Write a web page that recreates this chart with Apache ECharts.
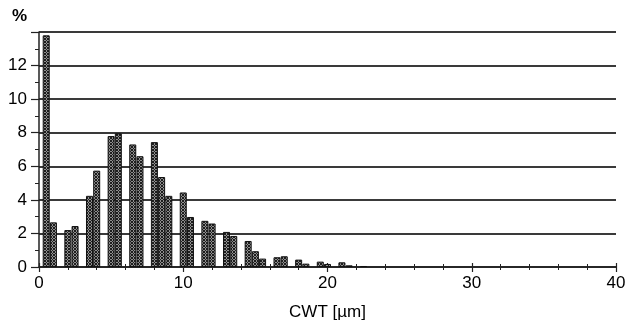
<!DOCTYPE html>
<html>
<head>
<meta charset="utf-8">
<script src="https://cdn.jsdelivr.net/npm/echarts@6/dist/echarts.min.js"></script>
<style>
  html, body { margin: 0; padding: 0; background: #fff; }
  #chart { width: 630px; height: 324px; }
</style>
</head>
<body>
<div id="chart"></div>
<script>
// bin centres (µm) and share of fibres (%)
const cwtBins = [0.5, 1.0, 2.0, 2.5, 3.5, 4.0, 5.0, 5.5, 6.5, 7.0, 8.0, 8.5, 9.0,
  10.0, 10.5, 11.5, 12.0, 13.0, 13.5, 14.5, 15.0, 15.5, 16.5, 17.0, 18.0, 18.5,
  19.5, 20.0, 21.0, 21.5, 22.5]
const percents = [13.8, 2.66, 2.2, 2.44, 4.24, 5.74, 7.8, 7.96, 7.3, 6.6, 7.44, 5.36, 4.24,
  4.44, 2.98, 2.75, 2.59, 2.09, 1.85, 1.55, 0.94, 0.5, 0.58, 0.64, 0.44, 0.2,
  0.32, 0.18, 0.28, 0.1, 0.06]

const xTitle = 'CWT [µm]'
const yTitle = '%'

// dotted grey fill like the scanned print
function makePattern() {
  const c = document.createElement('canvas')
  c.width = 3
  c.height = 3
  const ctx = c.getContext('2d')
  ctx.fillStyle = '#909090'
  ctx.fillRect(0, 0, 3, 3)
  ctx.fillStyle = '#1e1e1e'
  ctx.fillRect(0, 0, 1, 1)
  ctx.fillRect(2, 0, 1, 1)
  ctx.fillRect(1, 1, 1, 1)
  ctx.fillRect(0, 2, 1, 1)
  ctx.fillRect(2, 2, 1, 1)
  return c
}

const chart = echarts.init(document.getElementById('chart'))

const font = 'Liberation Sans, Arial, sans-serif'

chart.setOption({
  animation: false,
  grid: { left: 39, right: 14, top: 32, bottom: 57, containLabel: false, outerBoundsMode: 'none' },
  xAxis: [
    {
      type: 'value',
      min: 0,
      max: 40,
      interval: 10,
      name: xTitle,
      nameLocation: 'center',
      nameGap: 37,
      nameTextStyle: { color: '#000', fontSize: 17, fontFamily: font },
      axisLine: { show: true, lineStyle: { color: '#222', width: 1.5 } },
      axisTick: { show: true, length: 5, lineStyle: { color: '#222', width: 1.2 } },
      minorTick: { show: true, splitNumber: 5, length: 3, lineStyle: { color: '#222', width: 1 } },
      axisLabel: { color: '#000', fontSize: 17, fontFamily: font, margin: 8 },
      splitLine: { show: false }
    },
    {
      // same scale, only to let the ticks cross the axis line
      type: 'value',
      position: 'bottom',
      min: 0,
      max: 40,
      interval: 10,
      axisLine: { show: false },
      axisTick: { show: true, inside: true, length: 4, lineStyle: { color: '#222', width: 1.2 } },
      minorTick: { show: true, splitNumber: 5, length: 3, lineStyle: { color: '#222', width: 1 } },
      axisLabel: { show: false },
      splitLine: { show: false }
    }
  ],
  yAxis: {
    type: 'value',
    min: 0,
    max: 14,
    interval: 2,
    name: yTitle,
    nameLocation: 'end',
    nameGap: 7,
    nameTextStyle: { color: '#000', fontSize: 17, fontWeight: 'bold', fontFamily: font, align: 'right', padding: [0, 12, 0, 0] },
    axisLine: { show: true, lineStyle: { color: '#222', width: 1.5 } },
    axisTick: { show: true, length: 8, lineStyle: { color: '#222', width: 1.2 } },
    minorTick: { show: true, splitNumber: 2, length: 4, lineStyle: { color: '#222', width: 1 } },
    axisLabel: { color: '#000', fontSize: 17, fontFamily: font, margin: 12, formatter: v => (v === 14 ? '' : String(v)) },
    splitLine: { show: true, lineStyle: { color: '#3a3a3a', width: 1.8 } }
  },
  series: [
    {
      type: 'bar',
      xAxisIndex: 0,
      barWidth: 7,
      data: cwtBins.map((x, i) => [x, percents[i]]),
      itemStyle: {
        color: { image: makePattern(), repeat: 'repeat' },
        borderColor: '#111',
        borderWidth: 1
      }
    }
  ]
})
</script>
</body>
</html>
